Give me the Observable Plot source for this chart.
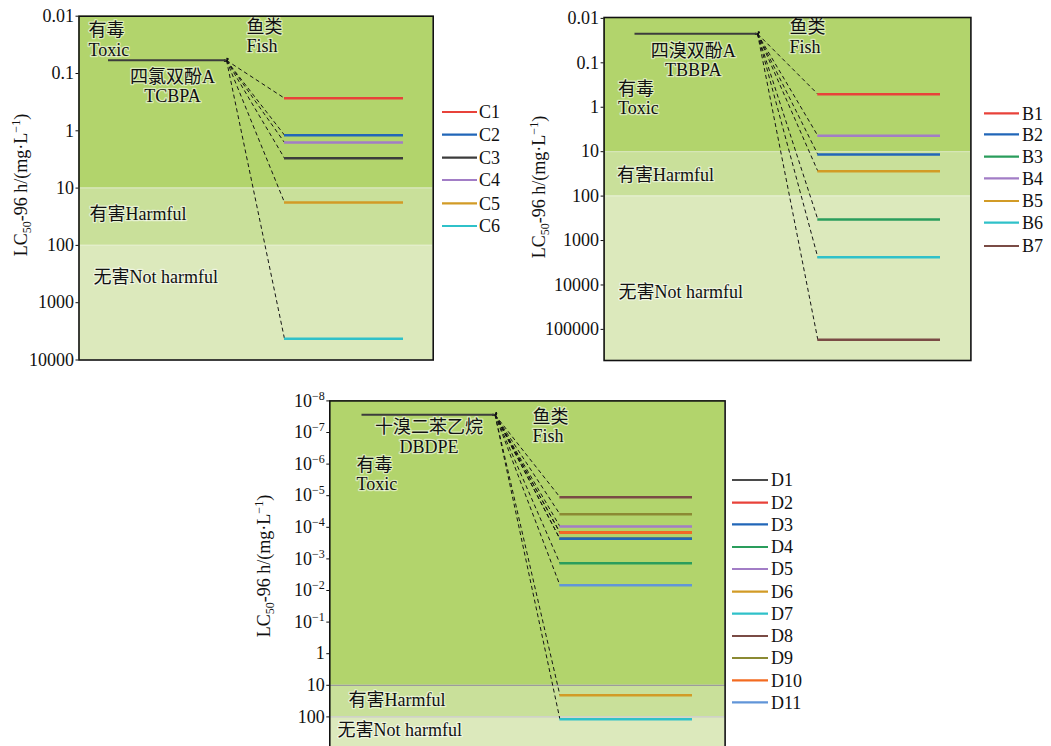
<!DOCTYPE html>
<html><head><meta charset="utf-8">
<script src="https://cdn.jsdelivr.net/npm/d3@7"></script>
<script src="https://cdn.jsdelivr.net/npm/@observablehq/plot@0.6"></script>
<style>
html,body{margin:0;padding:0;background:#fff;overflow:hidden;width:1051px;height:746px;}
.panel{position:absolute;}
#legends{position:absolute;left:0;top:0;}
svg text{font-family:"Liberation Serif","Times New Roman",Times,"DejaVu Serif","Noto Sans CJK SC",serif;}
</style></head><body>
<div id="p1" class="panel" style="left:0px;top:0px"></div>
<div id="p2" class="panel" style="left:520px;top:0px"></div>
<div id="p3" class="panel" style="left:250px;top:380px"></div>
<svg id="legends" width="1051" height="746"></svg>
<script>
// ---------- data ----------
const bandNames = ["有毒", "Toxic", "有害Harmful", "无害Not harmful"];
const bandLimits = [10, 100];           // toxic < 10 < harmful < 100 < not harmful
const fishLabel = ["鱼类", "Fish"];

const tcbpaName = ["四氯双酚A", "TCBPA"];
const tcbpaLC50 = 0.059;
const cNames = ["C1", "C2", "C3", "C4", "C5", "C6"];
const cLC50  = [0.27, 1.19, 3.01, 1.60, 17.8, 4270];
const cTicks = [0.01, 0.1, 1, 10, 100, 1000, 10000];

const tbbpaName = ["四溴双酚A", "TBBPA"];
const tbbpaLC50 = 0.0222;
const bNames = ["B1", "B2", "B3", "B4", "B5", "B6", "B7"];
const bLC50  = [0.507, 11.5, 334, 4.38, 27.4, 2390, 170000];
const bTicks = [0.01, 0.1, 1, 10, 100, 1000, 10000, 100000];

const dbdpeName = ["十溴二苯乙烷", "DBDPE"];
const dbdpeLC50 = 2.75e-8;
const dNames = ["D1", "D2", "D3", "D4", "D5", "D6", "D7", "D8", "D9", "D10", "D11"];
const dLC50  = [2.31e-4, 1.46e-4, 2.31e-4, 1.37e-3, 9.4e-5, 20.6, 118, 1.11e-5, 3.85e-5, 1.46e-4, 6.8e-3];
const dTicks = [1e-8, 1e-7, 1e-6, 1e-5, 1e-4, 1e-3, 1e-2, 1e-1, 1, 10, 100];

// ---------- styles ----------
const C = {red:"#e8423a", blue:"#2166b8", dark:"#3c3c3c", purple:"#a27dc6", gold:"#d29b26",
  cyan:"#2fc1c9", green:"#2a9d5c", brown:"#7a4b45", olive:"#8b8a33", orange:"#f36b21", lblue:"#6195d8"};
const cColors = [C.red, C.blue, C.dark, C.purple, C.gold, C.cyan];
const bColors = [C.red, C.blue, C.green, C.purple, C.gold, C.cyan, C.brown];
const dColors = ["#4a4a4a", C.red, C.blue, C.green, C.purple, C.gold, C.cyan, C.brown, C.olive, C.orange, C.lblue];
const bandFill = ["#b2d46c", "#c9e09a", "#dce9bc"];
const FONT = '"Liberation Serif","Times New Roman",Times,"DejaVu Serif","Noto Sans CJK SC",serif';

// ---------- layout (page pixels) ----------
const panels = [
  { el:"#p1", left:0, top:0, width:520, height:370, frame:[78.5, 432.7], mt:15.7, mb:10.5,
    domain:[0.01, 10000], ticks:cTicks, parentX:[108, 226], prodX:[284, 403],
    name:tcbpaName, parent:tcbpaLC50, names:cNames, vals:cLC50, colors:cColors,
    bandRule:["#d6e6b6", "#e3eecb"],
    ylab:[21, 185],
    notes:{toxic:[88, 0.0175, 0.0385], name:[172, 0.117, 0.247], fish:[246, 0.0158, 0.0330],
           harm:[89, 28.9], safe:[93, 363]},
    legend:{x1:442, x2:477, tx:479, rows:[112, 134.7, 157.7, 180, 203.3, 226]} },
  { el:"#p2", left:520, top:0, width:531, height:370, frame:[603.6, 970.4], mt:17, mb:10,
    domain:[Math.pow(10,-2.02), Math.pow(10,5.70)], ticks:bTicks, parentX:[634.5, 757], prodX:[817.3, 940],
    name:tbbpaName, parent:tbbpaLC50, names:bNames, vals:bLC50, colors:bColors,
    bandRule:["#d6e6b6", "#e3eecb"],
    ylab:[538.6, 187],
    notes:{toxic:[617.5, 0.39, 1.03], name:[692.7, 0.0545, 0.144], fish:[789, 0.0160, 0.0440],
           harm:[616.5, 34.2], safe:[618, 14700]},
    legend:{x1:984, x2:1019, tx:1022, rows:[113.3, 134.3, 156.7, 178.3, 201, 222.7, 246]} },
  { el:"#p3", left:250, top:380, width:550, height:370, frame:[329.3, 724.6], mt:20.4, mb:2,
    domain:[1e-8, 1000], ticks:dTicks, parentX:[361.5, 494.5], prodX:[559.4, 692],
    name:dbdpeName, parent:dbdpeLC50, names:dNames, vals:dLC50, colors:dColors,
    bandRule:["#9c9c9c", "#c9c9c9"], sup:true,
    ylab:[264, 566],
    notes:{toxic:[356, 1.09e-6, 4.2e-6], name:[428.5, 7.0e-8, 2.85e-7], fish:[532, 3.25e-8, 1.28e-7],
           harm:[348, 30.3], safe:[337, 269]},
    legend:{x1:732, x2:768, tx:771, rows:[480, 502.7, 524.3, 547, 569, 591.7, 613.7, 636, 658, 680.3, 702.3]} }
];

const halo = {fill:"#111", stroke:"#ffffff", strokeWidth:2.5, strokeOpacity:0.55, fontSize:18, fontFamily:FONT, lineAnchor:"middle"};

for (const p of panels) {
  const [fl, fr] = p.frame;
  const products = p.names.map((n, i) => ({name:n, v:p.vals[i], color:p.colors[i]}));
  const bands = [
    {y1:p.domain[0], y2:bandLimits[0], fill:bandFill[0]},
    {y1:bandLimits[0], y2:bandLimits[1], fill:bandFill[1]},
    {y1:bandLimits[1], y2:p.domain[1], fill:bandFill[2]}
  ];
  const n = p.notes;
  const startNotes = [
    {x:n.toxic[0], y:n.toxic[1], t:bandNames[0]},
    {x:n.toxic[0], y:n.toxic[2], t:bandNames[1]},
    {x:n.fish[0],  y:n.fish[1],  t:fishLabel[0]},
    {x:n.fish[0],  y:n.fish[2],  t:fishLabel[1]},
    {x:n.harm[0],  y:n.harm[1],  t:bandNames[2]},
    {x:n.safe[0],  y:n.safe[1],  t:bandNames[3]}
  ];
  const midNotes = [
    {x:n.name[0], y:n.name[1], t:p.name[0]},
    {x:n.name[0], y:n.name[2], t:p.name[1]}
  ];
  const chart = Plot.plot({
    width:p.width, height:p.height,
    marginLeft: fl - p.left, marginRight: p.left + p.width - fr,
    marginTop: p.mt, marginBottom: p.mb,
    style:{fontFamily:FONT, fontSize:"18px", color:"#111", background:"transparent"},
    x:{domain:[fl, fr], axis:null},
    y:{type:"log", domain:p.domain, reverse:true, axis:null},
    color:{type:"identity"},
    marks:[
      Plot.rect(bands, {x1:fl, x2:fr, y1:"y1", y2:"y2", fill:"fill", inset:0}),
      Plot.ruleY(bandLimits, {x1:fl, x2:fr, stroke:(d, i) => p.bandRule[i], strokeWidth:1.2}),
      Plot.link(products, {x1:p.parentX[1], y1:p.parent, x2:p.prodX[0], y2:"v",
        stroke:"#151515", strokeWidth:1, strokeDasharray:"4,3", markerStart:"arrow"}),
      Plot.ruleY([p.parent], {x1:p.parentX[0], x2:p.parentX[1], stroke:"#3c3c3c", strokeWidth:2}),
      Plot.ruleY(products, {y:"v", x1:p.prodX[0], x2:p.prodX[1], stroke:"color", strokeWidth:2.5}),
      Plot.text(startNotes, {x:"x", y:"y", text:"t", textAnchor:"start", ...halo}),
      Plot.text(midNotes, {x:"x", y:"y", text:"t", textAnchor:"middle", ...halo}),
      Plot.frame({stroke:"#111", strokeWidth:1.6}),
      Plot.axisY({ticks:p.ticks, tickSize:3, tickPadding:2, label:null, fontSize:18,
        tickFormat: d => d < 1 && p.sup ? "10^" + Math.round(Math.log10(d)) : String(d)})
    ]
  });
  document.querySelector(p.el).appendChild(chart);
  const svg = d3.select(chart);
  // superscript tick labels
  svg.selectAll('g[aria-label="y-axis tick label"] text').each(function() {
    const s = this.textContent;
    if (s.startsWith("10^")) {
      const ex = s.slice(3).replace("-", "\u2212");
      const t = d3.select(this).text("");
      t.append("tspan").text("10");
      t.append("tspan").attr("dy", -7).attr("font-size", "12px").text(ex);
    }
  });
  // y axis title with sub/superscripts
  const lab = svg.append("text")
    .attr("transform", `translate(${p.ylab[0] - p.left},${p.ylab[1] - p.top}) rotate(-90)`)
    .attr("text-anchor", "middle").attr("dy", "0.35em")
    .attr("font-size", "18px").attr("font-family", FONT).attr("fill", "#111");
  lab.append("tspan").text("LC");
  lab.append("tspan").attr("font-size", "12px").attr("dy", 4).text("50");
  lab.append("tspan").attr("dy", -4).text("-96 h/(mg\u00b7L");
  lab.append("tspan").attr("font-size", "12px").attr("dy", -7).text("\u22121");
  lab.append("tspan").attr("dy", 7).text(")");

  // legend
  const lg = d3.select("#legends").append("g");
  p.names.forEach((nm, i) => {
    const y = p.legend.rows[i];
    lg.append("line").attr("x1", p.legend.x1).attr("x2", p.legend.x2).attr("y1", y).attr("y2", y)
      .attr("stroke", p.colors[i]).attr("stroke-width", 2.2);
    lg.append("text").attr("x", p.legend.tx).attr("y", y).attr("dy", "0.35em")
      .attr("font-family", FONT).attr("font-size", "18px").attr("fill", "#111").text(nm);
  });
}
</script>
</body></html>
